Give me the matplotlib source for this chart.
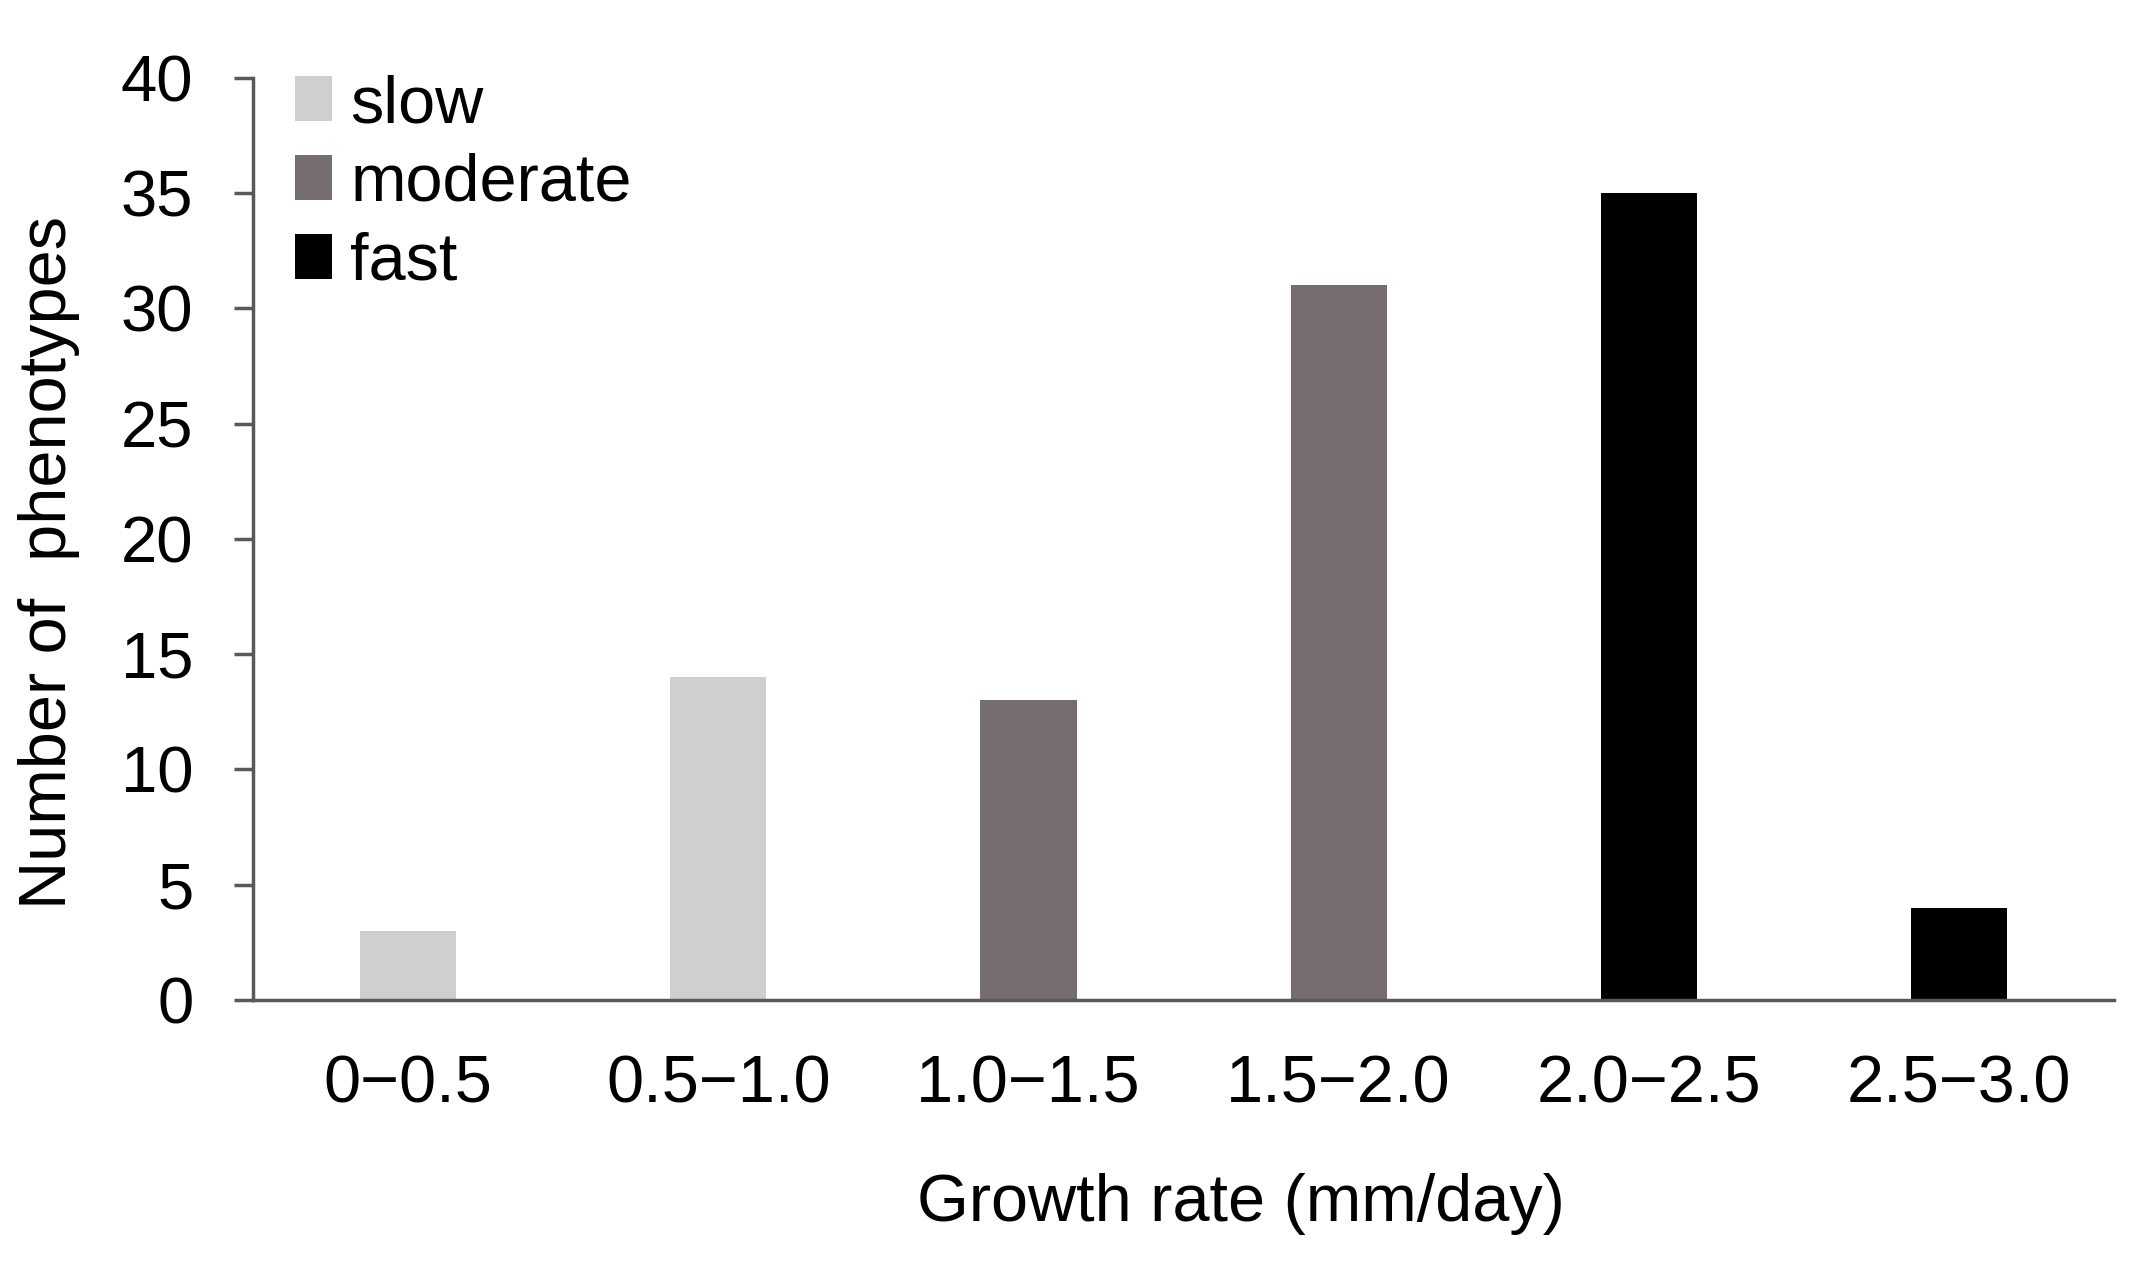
import matplotlib
matplotlib.use('Agg')
import matplotlib.pyplot as plt
from matplotlib.patches import Patch

# Data
bins = ['0\u22120.5', '0.5\u22121.0', '1.0\u22121.5', '1.5\u22122.0', '2.0\u22122.5', '2.5\u22123.0']
counts = [3, 14, 13, 31, 35, 4]
groups = ['slow', 'slow', 'moderate', 'moderate', 'fast', 'fast']
group_names = ['slow', 'moderate', 'fast']
group_colors = {'slow': '#d0cfd0', 'moderate': '#766d6e', 'fast': '#000000'}
yticks = [0, 5, 10, 15, 20, 25, 30, 35, 40]

plt.rcParams['font.family'] = ['Liberation Sans', 'DejaVu Sans']
axis_color = '#595959'
fs = 48

fig = plt.figure(figsize=(21.52, 12.68), dpi=100)
ax = fig.add_axes([0.1176, 0.2114, 0.8648, 0.7271])

x = list(range(len(bins)))
ax.bar(x, counts, width=0.31, color=[group_colors[g] for g in groups])

ax.set_xlim(-0.5, 5.5)
ax.set_ylim(0, 40)
ax.set_yticks(yticks)
ax.set_xticks(x)
ax.set_xticklabels(bins)

for side in ['top', 'right']:
    ax.spines[side].set_visible(False)
for side in ['left', 'bottom']:
    ax.spines[side].set_color(axis_color)
    ax.spines[side].set_linewidth(2.5)

ax.tick_params(axis='y', direction='out', length=14, width=2.5, color=axis_color,
               labelsize=47, pad=29)
ax.tick_params(axis='x', length=0, labelsize=fs, pad=39)

ax.set_xlabel('Growth rate (mm/day)', fontsize=fs)
ax.xaxis.set_label_coords(0.531, -0.188)
ax.set_ylabel('Number of  phenotypes', fontsize=fs)
ax.yaxis.set_label_coords(-0.093, 0.474)

handles = [Patch(facecolor=group_colors[g], edgecolor='none') for g in group_names]
ax.legend(handles, group_names, loc='upper left', bbox_to_anchor=(0.0226, 1.004),
          frameon=False, fontsize=fs, handlelength=0.555, handleheight=0.66,
          handletextpad=0.27, labelspacing=0.25, borderpad=0, borderaxespad=0)

fig.savefig('out.png', dpi=100)
